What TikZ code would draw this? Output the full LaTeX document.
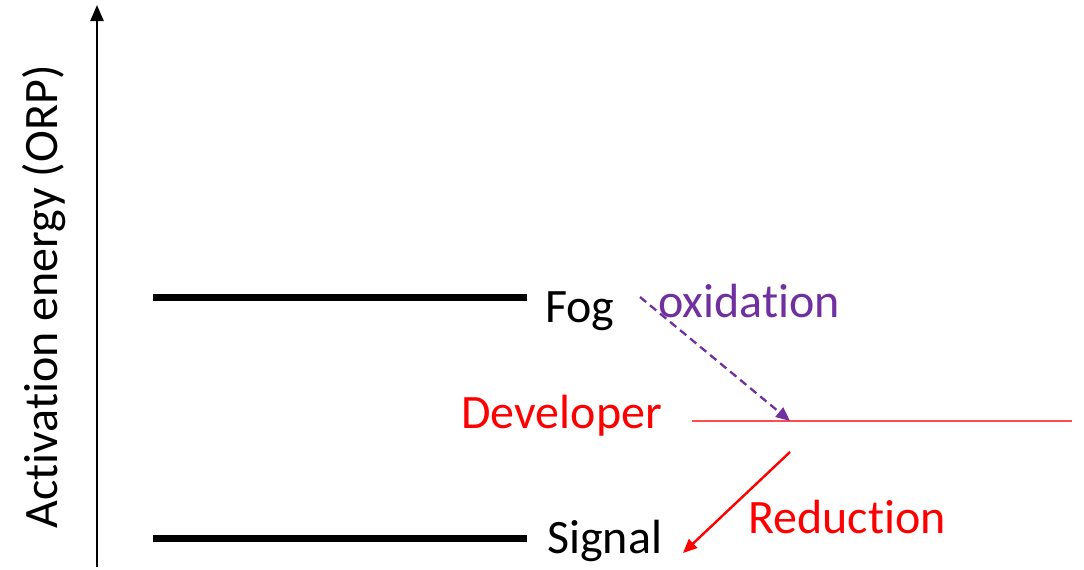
\documentclass[tikz,border=0pt]{standalone}
\usepackage{fontspec}
\setmainfont{Carlito}[Ligatures=NoCommon]
\usetikzlibrary{arrows.meta}
\definecolor{oxpurple}{HTML}{7030A0}
\definecolor{devred}{HTML}{FF0000}
\definecolor{devline}{HTML}{FF4D4D}
\begin{document}
\begin{tikzpicture}[x=1pt,y=-1pt,
  level/.style={line width=7pt},
  lbl/.style={font=\fontsize{48}{52}\selectfont, inner sep=0pt},
  every node/.style={inner sep=0pt}]
\useasboundingbox (0,0) rectangle (1084,570);
% vertical axis
\coordinate (ybot) at (97,567);
\coordinate (ytop) at (97,5);
\draw[line width=2.4pt, -{Triangle[length=16pt,width=13pt]}] (ybot) -- (ytop);
\node[lbl, rotate=90, anchor=center] (ylab) at (44,297) {Activation energy (ORP)};
% energy levels
\coordinate (fogL) at (153,297);
\coordinate (fogR) at (527,297);
\coordinate (sigL) at (153,538);
\coordinate (sigR) at (527,538);
\draw[level] (fogL) -- (fogR);
\draw[level] (sigL) -- (sigR);
\node[lbl, anchor=west] (fog) at (545,311) {Fog};
\node[lbl, anchor=west] (signal) at (547,541) {Signal};
% developer level
\coordinate (devL) at (692,421);
\coordinate (devR) at (1072,421);
\draw[devline, line width=1.3pt] (devL) -- (devR);
\node[lbl, anchor=east, text=devred] (dev) at (662,416) {Developer};
% oxidation arrow
\coordinate (oxS) at (640,297);
\coordinate (oxE) at (790,421);
\draw[oxpurple, line width=2.3pt, dash pattern=on 8pt off 5pt, -{Triangle[length=14pt,width=12pt]}] (oxS) -- (oxE);
\node[lbl, anchor=west, text=oxpurple] (ox) at (658,301) {oxidation};
% reduction arrow
\coordinate (reS) at (790,452);
\coordinate (reE) at (683,553);
\draw[devred, line width=2.4pt, -{Triangle[length=14pt,width=12pt]}] (reS) -- (reE);
\node[lbl, anchor=west, text=devred] (red) at (748,517) {Reduction};
\end{tikzpicture}
\end{document}
